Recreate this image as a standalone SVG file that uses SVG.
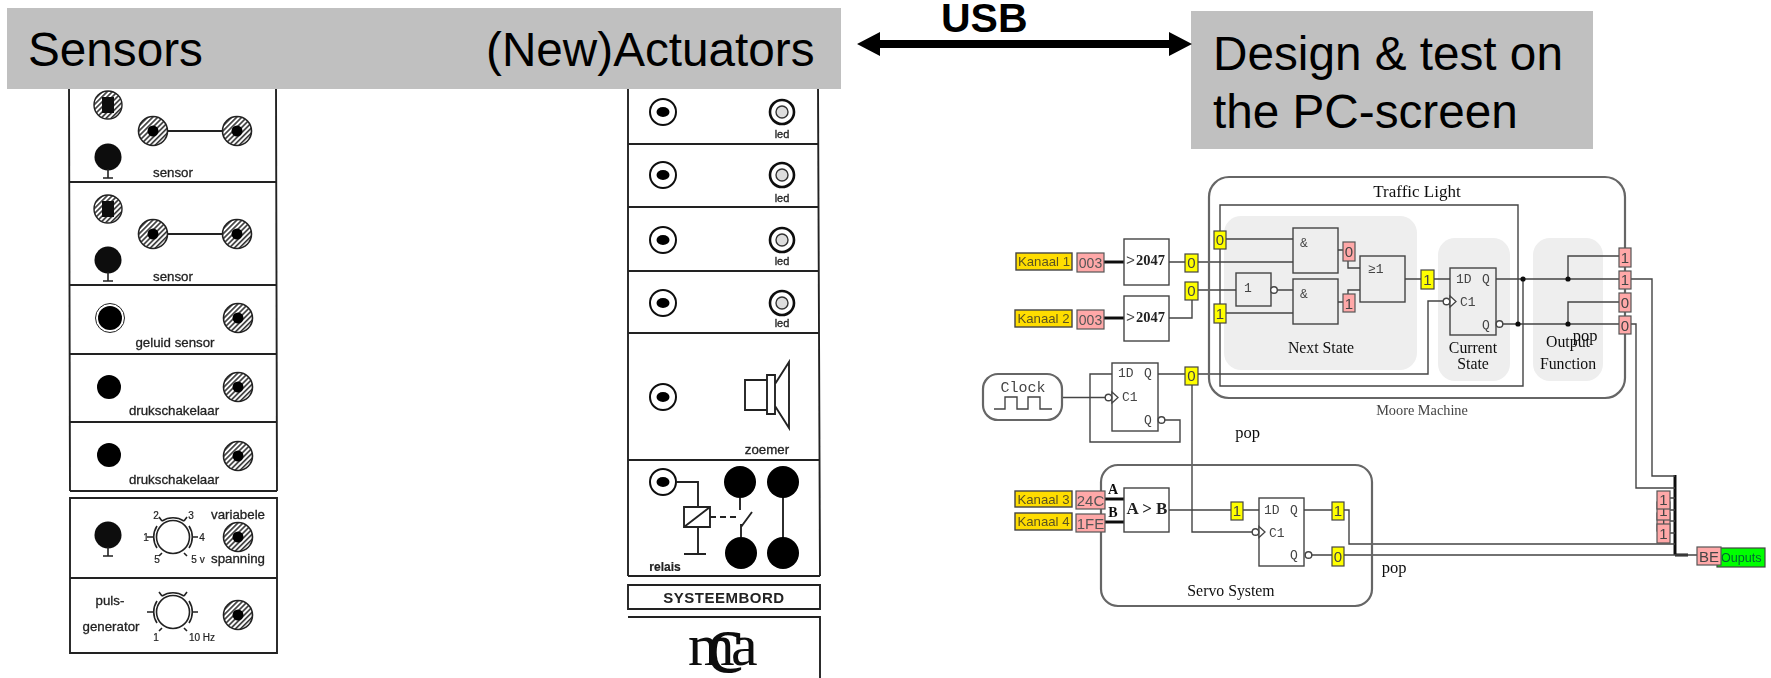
<svg xmlns="http://www.w3.org/2000/svg" xmlns:xlink="http://www.w3.org/1999/xlink" width="1771" height="678" viewBox="0 0 1771 678">
<style>
text{font-family:"Liberation Sans",Arial,sans-serif}
.hdr{fill:#c0c0c0}
.ht{font-size:47.700px;fill:#000}
.sl{fill:none;stroke:#222;stroke-width:1.9}
.sc{font-size:13.300px;fill:#222;text-anchor:middle;stroke:#222;stroke-width:.3}
.tiny{font-size:10px;fill:#222;text-anchor:middle;stroke:#222;stroke-width:.2}
.led{font-size:11px;fill:#222;text-anchor:middle;stroke:#222;stroke-width:.3}
.w{fill:none;stroke:#444;stroke-width:1.4}
.wb{fill:none;stroke:#111;stroke-width:3}
.frame{fill:none;stroke:#666;stroke-width:2.2}
.panel{fill:#eee}
.gw{fill:#fff;stroke:#444;stroke-width:1.4}
.gt{fill:none;stroke:#444;stroke-width:1.4}
.tri{fill:#fff;stroke:#444;stroke-width:1.3}
.bub{fill:#fff;stroke:#444;stroke-width:1.4}
.dot{fill:#111}
.y{fill:#ff0;stroke:#444;stroke-width:1.2}
.r{fill:#ffa8a8;stroke:#555;stroke-width:1.2}
.k{fill:#fd0;stroke:#444;stroke-width:1.4}
.g{fill:#0f0;stroke:#444;stroke-width:1.2}
.tg{font-size:15px;fill:#444;text-anchor:middle}
.ks{font-size:13.200px;fill:#5c5320;text-anchor:middle}
.kr{font-size:14px;fill:#555;text-anchor:middle}
.m{font-family:"Liberation Mono",monospace;font-size:13px;fill:#444}
.s{font-family:"Liberation Serif",serif;font-size:15.800px;fill:#111;text-anchor:middle}
.logo{font-family:"Liberation Serif",serif;fill:#111}
</style>
<defs>
<pattern id="hatch" patternUnits="userSpaceOnUse" width="3.6" height="3.6" patternTransform="rotate(-45)"><rect width="3.6" height="3.6" fill="#fff"/><rect width="3.6" height="1.6" fill="#333"/></pattern>
<filter id="scan" x="-2%" y="-2%" width="104%" height="104%"><feGaussianBlur stdDeviation="0.6"/></filter>
<filter id="soft" x="-2%" y="-2%" width="104%" height="104%"><feGaussianBlur stdDeviation="0.35"/></filter>
<g id="sock"><circle r="14.5" fill="url(#hatch)" stroke="#222" stroke-width="1.6"/><circle r="5.5" fill="#000"/></g>
<g id="tree"><circle r="13.5" fill="#0a0a0a"/><path d="M0 12V21M-5 21H5" fill="none" stroke="#222" stroke-width="1.6"/></g>
<g id="ldr"><circle r="14" fill="url(#hatch)" stroke="#222" stroke-width="1.4"/><rect x="-6" y="-8" width="12" height="16" fill="#111"/></g>
<g id="act"><circle r="13" fill="#fff" stroke="#111" stroke-width="2"/><ellipse rx="6.500" ry="5" fill="#000"/></g>
<g id="led"><circle r="12" fill="#fff" stroke="#111" stroke-width="2.600"/><circle r="6" fill="#ddd" stroke="#333" stroke-width="1.400"/></g>
<g id="knob"><circle r="16.500" fill="#fff" stroke="#222" stroke-width="1.600"/><path d="M-11-16A20 20 0 0 1 11-16M16-11A20 20 0 0 1 16 11M11 16L14 19M-11 16L-14 19M-16 11A20 20 0 0 1-16-11M-11-16L-14-20M11-16L14-20M-20 0H-26M20 0H25" fill="none" stroke="#222" stroke-width="1.600"/></g>
</defs>
<rect width="1771" height="678" fill="#fff"/>

<g id="sensors-board" filter="url(#scan)">
<path class="sl" d="M69 85L70 491M276 85L277 491M70 182H276M70 285H276M70 354H277M70 491H277M70 422H277M70 498H277V653H70ZM70 578H277"/>
<use href="#ldr" x="108" y="105"/><use href="#tree" x="108" y="157"/>
<use href="#sock" x="153" y="131"/><use href="#sock" x="237" y="131"/><path class="sl" d="M168 131H222"/>
<text class="sc" x="173" y="177">sensor</text>
<use href="#ldr" x="108" y="209"/><use href="#tree" x="108" y="260"/>
<use href="#sock" x="153" y="234"/><use href="#sock" x="237" y="234"/><path class="sl" d="M168 234H222"/>
<text class="sc" x="173" y="281">sensor</text>
<circle cx="110" cy="318" r="14.500" fill="#fff" stroke="#222"/><circle cx="110" cy="318" r="12" fill="#000"/><use href="#sock" x="238" y="318"/>
<text class="sc" x="175" y="347">geluid sensor</text>
<circle cx="109" cy="387" r="12" fill="#000"/><use href="#sock" x="238" y="387"/>
<text class="sc" x="174" y="415">drukschakelaar</text>
<circle cx="109" cy="455" r="12" fill="#000"/><use href="#sock" x="238" y="456"/>
<text class="sc" x="174" y="484">drukschakelaar</text>
<use href="#tree" x="108" y="535"/><use href="#knob" x="173" y="537"/><use href="#sock" x="238" y="537"/>
<text class="sc" x="238" y="519">variabele</text><text class="sc" x="238" y="563">spanning</text>
<text class="tiny" x="146" y="541">1</text><text class="tiny" x="156" y="519">2</text><text class="tiny" x="191" y="519">3</text><text class="tiny" x="202" y="541">4</text><text class="tiny" x="157" y="563">5</text><text class="tiny" x="198" y="563">5 v</text>
<use href="#knob" x="173" y="612"/><use href="#sock" x="238" y="615"/>
<text class="sc" x="110" y="605">puls-</text><text class="sc" x="111" y="631">generator</text>
<text class="tiny" x="156" y="641">1</text><text class="tiny" x="202" y="641">10 Hz</text>
</g>

<g id="actuators-board" filter="url(#scan)">
<path class="sl" d="M628 85V576M818 85L820 576M628 144H818M628 207H819M628 271H819M628 333H819M628 460H820M628 576H820M628 585H820V609H628ZM628 617H820V678"/>
<use href="#act" x="663" y="112"/><use href="#led" x="782" y="112"/><text class="led" x="782" y="138">led</text>
<use href="#act" x="663" y="175"/><use href="#led" x="782" y="175"/><text class="led" x="782" y="202">led</text>
<use href="#act" x="663" y="240"/><use href="#led" x="782" y="240"/><text class="led" x="782" y="265">led</text>
<use href="#act" x="663" y="303"/><use href="#led" x="782" y="303"/><text class="led" x="782" y="327">led</text>
<use href="#act" x="663" y="397"/>
<path class="sl" d="M767 380H745V410H767M767 375H775V414H767ZM775 384L789 362V428L775 406M789 362V428"/>
<text class="sc" x="767" y="454">zoemer</text>
<use href="#act" x="663" y="482"/>
<path class="sl" d="M677 482H698V507M684 507H710V527H684ZM684 527L710 507M698 527V554M684 554H706M740 498V510M741 524V537M741 527L752 512M783 482V553"/>
<path class="sl" d="M710 517H738" stroke-dasharray="6 4"/>
<circle cx="740" cy="482" r="16" fill="#000"/><circle cx="783" cy="482" r="16" fill="#000"/><circle cx="741" cy="553" r="16" fill="#000"/><circle cx="783" cy="553" r="16" fill="#000"/>
<text class="tiny" x="665" y="571" style="font-size:12px;font-weight:bold">relais</text>
<text x="724" y="603" font-size="15" font-weight="bold" fill="#222" text-anchor="middle" letter-spacing=".5">SYSTEEMBORD</text>
<text class="logo" x="688" y="665" font-size="60">m</text>
<text class="logo" x="706" y="672" font-size="85" font-weight="normal">c</text>
<text class="logo" x="731" y="665" font-size="60">a</text>
</g>

<g id="header-sensors"><rect class="hdr" x="7" y="8" width="834" height="81"/><text class="ht" x="28" y="66">Sensors</text><text class="ht" x="486" y="66">(New)Actuators</text></g>
<g id="header-pc"><rect class="hdr" x="1191" y="11" width="402" height="138"/><text class="ht" x="1213" y="70">Design &amp; test on</text><text class="ht" x="1213" y="128">the PC-screen</text></g>
<g id="usb"><text x="941" y="32" font-size="41" font-weight="bold" fill="#000">USB</text>
<path d="M857 44L880 32V40H1169V32L1192 44L1169 56V48H880V56Z" fill="#000"/></g>

<g filter="url(#soft)">
<g id="panels"><rect class="panel" x="1224" y="216" width="193" height="154" rx="17"/><rect class="panel" x="1438" y="238" width="72" height="143" rx="17"/><rect class="panel" x="1533" y="238" width="70" height="143" rx="17"/></g>

<g id="connectors">
<path class="wb" d="M1104 262H1124M1104 318H1124M1105 499H1125M1105 522H1125M1675 475V555M1675 555H1688"/>
<path class="w" d="M1169 262H1293M1169 318H1192V300M1198 290H1236M1226 239H1293M1226 313H1293M1277 290H1293M1338 250H1343M1338 302H1343M1348 261V268H1360M1348 294V290H1360M1405 279H1450M1496 279H1619M1502 324H1619M1568 279V256H1619M1568 324V302H1619"/>
<path class="w" d="M1518 324V205H1220V386H1523V279"/>
<path class="w" d="M1158 374H1428V301H1443M1192 374V532H1253M1062 397.500H1106M1112 374H1090V442H1180V420H1165"/>
<path class="w" d="M1169 510H1259M1304 510H1349V544H1675M1311 555H1697"/>
<path class="w" d="M1631 279H1652V476H1675M1631 324H1636V488H1675M1670 498H1675M1670 510H1675M1670 521H1675M1670 533H1675"/>
</g>

<g id="dots"><circle class="dot" cx="1523" cy="279" r="2.600"/><circle class="dot" cx="1518" cy="324" r="2.600"/><circle class="dot" cx="1568" cy="279" r="2.600"/><circle class="dot" cx="1568" cy="324" r="2.600"/></g>

<g id="moore-machine"><rect class="frame" x="1209" y="177" width="416" height="221" rx="20"/>
<text class="s" x="1417" y="197" style="font-size:17px">Traffic Light</text>
<text class="s" x="1422" y="415" style="font-size:14.300px;fill:#444">Moore Machine</text>
<text class="s" x="1321" y="353">Next State</text>
<text class="s" x="1473" y="353">Current</text><text class="s" x="1473" y="369">State</text>
<text class="s" x="1568" y="347">Output</text><text class="s" x="1568" y="369">Function</text>
<text class="s" x="1585" y="341" style="font-size:16.500px">pop</text>
</g>
<g id="servo-system"><rect class="frame" x="1101" y="465" width="271" height="141" rx="17"/>
<text class="s" x="1231" y="596">Servo System</text>
<text class="s" x="1113" y="494" style="font-weight:bold;font-size:14px">A</text><text class="s" x="1113" y="517" style="font-weight:bold;font-size:14px">B</text></g>

<g id="clock"><rect class="frame" x="983" y="374" width="79" height="46" rx="15" style="fill:#fff"/>
<text class="m" x="1023" y="392" text-anchor="middle" style="font-size:15px">Clock</text>
<path class="w" d="M994 409H1005V397H1017V409H1028V397H1040V409H1052"/></g>

<g id="kanaal-1"><rect class="k" x="1016" y="253" width="56" height="17"/><text class="ks" x="1044" y="266">Kanaal 1</text><rect class="r" x="1077" y="253" width="27" height="19"/><text class="kr" x="1090.500" y="268">003</text></g>
<g id="kanaal-2"><rect class="k" x="1015" y="310" width="57" height="17"/><text class="ks" x="1043.500" y="323">Kanaal 2</text><rect class="r" x="1077" y="310" width="27" height="19"/><text class="kr" x="1090.500" y="325">003</text></g>
<g id="kanaal-3"><rect class="k" x="1015" y="491" width="57" height="16"/><text class="ks" x="1043.500" y="504">Kanaal 3</text><rect class="r" x="1076" y="491" width="29" height="18"/><text class="kr" x="1090.500" y="506" style="font-size:15px">24C</text></g>
<g id="kanaal-4"><rect class="k" x="1015" y="513" width="57" height="17"/><text class="ks" x="1043.500" y="526">Kanaal 4</text><rect class="r" x="1076" y="514" width="29" height="18"/><text class="kr" x="1090.500" y="529" style="font-size:15px">1FE</text></g>

<g id="cmp-1"><rect class="gw" x="1124" y="239" width="45" height="46"/><text class="m" x="1126" y="265" style="font-size:15px">&gt;</text><text x="1136" y="265" style="font-family:'Liberation Serif',serif;font-size:14.500px;font-weight:bold" fill="#222">2047</text></g>
<g id="cmp-2"><rect class="gw" x="1124" y="296" width="45" height="45"/><text class="m" x="1126" y="322" style="font-size:15px">&gt;</text><text x="1136" y="322" style="font-family:'Liberation Serif',serif;font-size:14.500px;font-weight:bold" fill="#222">2047</text></g>
<g id="cmp-ab"><rect class="gw" x="1124" y="488" width="45" height="44"/><text x="1147" y="514" text-anchor="middle" style="font-family:'Liberation Serif',serif;font-size:17px;font-weight:bold" fill="#222">A &gt; B</text></g>

<g id="and-1"><rect class="gt" x="1293" y="228" width="45" height="45"/><text class="m" x="1300" y="247">&amp;</text></g>
<g id="and-2"><rect class="gt" x="1293" y="279" width="45" height="45"/><text class="m" x="1300" y="298">&amp;</text></g>
<g id="not-1"><rect class="gt" x="1236" y="273" width="35" height="33"/><text class="m" x="1244" y="292">1</text><circle class="bub" cx="1274" cy="290" r="3.300"/></g>
<g id="or-1"><rect class="gt" x="1360" y="256" width="45" height="46"/><text class="m" x="1368" y="273">≥1</text></g>

<g id="ff-clock" transform="translate(1112 363)"><rect class="gw" width="46" height="68"/><text class="m" x="6" y="14">1D</text><text class="m" x="32" y="14">Q</text><text class="m" x="10" y="38">C1</text><text class="m" x="32" y="61">Q</text><path class="tri" d="M0 29L6 34.500L0 40Z"/><circle class="bub" cx="-3.500" cy="34.500" r="3.300"/><circle class="bub" cx="49.500" cy="57" r="3.300"/></g>
<g id="ff-state" transform="translate(1450 268)"><rect class="gt" width="46" height="67"/><text class="m" x="6" y="15">1D</text><text class="m" x="32" y="15">Q</text><text class="m" x="10" y="38">C1</text><text class="m" x="32" y="61">Q</text><path class="tri" d="M0 28L6 33.500L0 39Z"/><circle class="bub" cx="-3.500" cy="33.500" r="3.300"/><circle class="bub" cx="49.500" cy="56" r="3.300"/></g>
<g id="ff-servo" transform="translate(1259 498)"><rect class="gw" width="45" height="68"/><text class="m" x="5" y="16">1D</text><text class="m" x="31" y="16">Q</text><text class="m" x="10" y="39">C1</text><text class="m" x="31" y="61">Q</text><path class="tri" d="M0 28.500L6 34L0 39.500Z"/><circle class="bub" cx="-3.500" cy="34" r="3.300"/><circle class="bub" cx="49.500" cy="57" r="3.300"/></g>

<g id="tags-yellow">
<rect class="y" x="1185" y="254" width="13" height="18"/><text class="tg" x="1191.500" y="268">0</text>
<rect class="y" x="1185" y="282" width="13" height="18"/><text class="tg" x="1191.500" y="296">0</text>
<rect class="y" x="1185" y="367" width="13" height="18"/><text class="tg" x="1191.500" y="381">0</text>
<rect class="y" x="1214" y="231" width="12" height="18"/><text class="tg" x="1220" y="245">0</text>
<rect class="y" x="1214" y="304" width="12" height="19"/><text class="tg" x="1220" y="319">1</text>
<rect class="y" x="1421" y="270" width="13" height="19"/><text class="tg" x="1427.500" y="285">1</text>
<rect class="y" x="1231" y="502" width="12" height="18"/><text class="tg" x="1237" y="516">1</text>
<rect class="y" x="1332" y="502" width="12" height="18"/><text class="tg" x="1338" y="516">1</text>
<rect class="y" x="1332" y="547" width="12" height="19"/><text class="tg" x="1338" y="562">0</text>
</g>
<g id="tags-red">
<rect class="r" x="1343" y="242" width="12" height="19"/><text class="tg" x="1349" y="257">0</text>
<rect class="r" x="1343" y="294" width="12" height="18"/><text class="tg" x="1349" y="309">1</text>
<rect class="r" x="1619" y="248" width="12" height="19"/><text class="tg" x="1625" y="263">1</text>
<rect class="r" x="1619" y="271" width="12" height="18"/><text class="tg" x="1625" y="285">1</text>
<rect class="r" x="1619" y="293" width="12" height="19"/><text class="tg" x="1625" y="308">0</text>
<rect class="r" x="1619" y="316" width="12" height="18"/><text class="tg" x="1625" y="331">0</text>
<rect class="r" x="1657" y="513" width="13" height="18"/><text class="tg" x="1663.500" y="527">1</text>
<rect class="r" x="1657" y="502" width="13" height="18"/><text class="tg" x="1663.500" y="516">1</text>
<rect class="r" x="1657" y="491" width="13" height="18"/><text class="tg" x="1663.500" y="505">1</text>
<rect class="r" x="1657" y="524" width="13" height="19"/><text class="tg" x="1663.500" y="539">1</text>
</g>
<g id="outputs"><rect class="g" x="1717" y="548" width="48" height="19"/><text x="1721" y="562" font-size="12.600" fill="#063">Ouputs</text><rect class="r" x="1697" y="547" width="24" height="18"/><text class="tg" x="1709" y="562">BE</text></g>
<text class="s" x="1247.500" y="438" style="font-size:16.500px">pop</text>
<text class="s" x="1394" y="573" style="font-size:16.500px">pop</text>
</g>
</svg>
